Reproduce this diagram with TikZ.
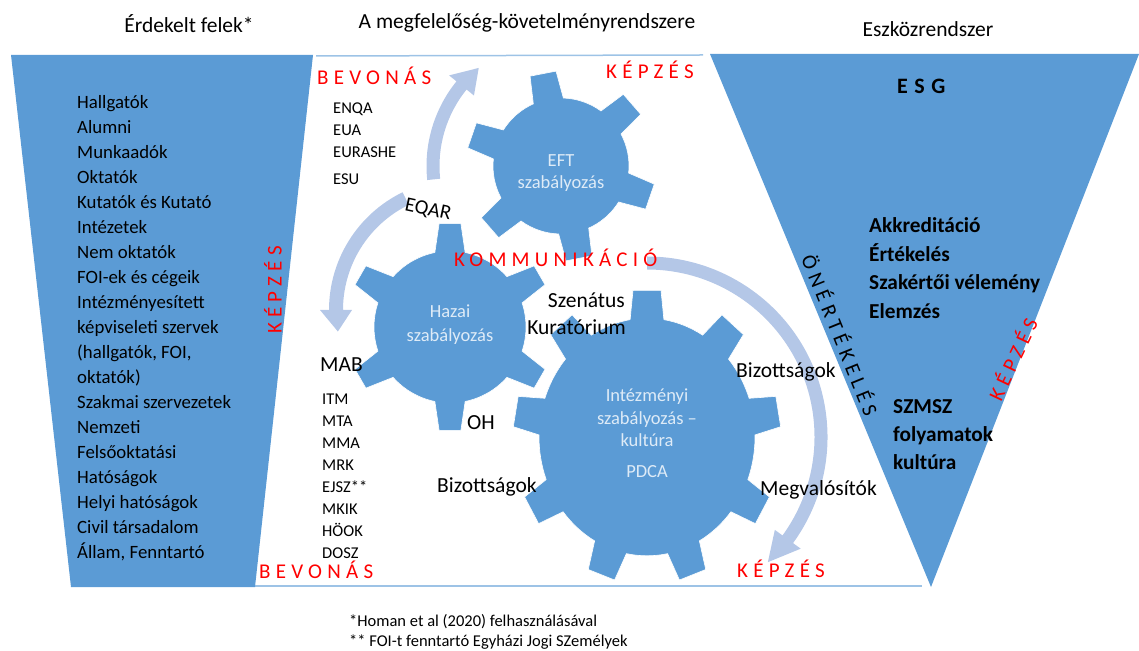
\documentclass[tikz,border=0pt]{standalone}
\usepackage{fontspec}
\setmainfont{Carlito}
\definecolor{panelblue}{HTML}{5B9BD5}
\definecolor{flowblue}{HTML}{B4C7E7}
\definecolor{gearlight}{HTML}{DEEBF7}
\definecolor{framelight}{HTML}{9DC3E6}

% gear: centre, teeth, body radius, tip radius, first tooth angle, half base angle, half tip angle, yscale
\newcommand{\gearwheel}[8]{%
  \begin{scope}[shift={#1}, yscale=#8]
    \filldraw[gear] ({#5-#6}:#3)
      \foreach \k in {1,...,#2} {
        -- ({#5+(\k-1)*360/#2-#7}:#4) -- ({#5+(\k-1)*360/#2+#7}:#4)
        -- ({#5+(\k-1)*360/#2+#6}:#3)
        arc[start angle={#5+(\k-1)*360/#2+#6}, end angle={#5+\k*360/#2-#6}, radius=#3]
      } -- cycle;
  \end{scope}}

% curved block arrow: centre, radius, start angle, head angle, tip angle, width, head half width
\newcommand{\arcarrow}[7]{%
  \pgfmathsetmacro\rin{#2-#6/2}\pgfmathsetmacro\rout{#2+#6/2}%
  \pgfmathsetmacro\hin{#2-#7}\pgfmathsetmacro\hout{#2+#7}%
  \begin{scope}[shift={#1}]
    \fill[flow] (#3:\rin) arc[start angle=#3, end angle=#4, radius=\rin]
      -- (#4:\hin) -- (#5:#2) -- (#4:\hout) -- (#4:\rout)
      arc[start angle=#4, end angle=#3, radius=\rout] -- cycle;
  \end{scope}}

\begin{document}
\begin{tikzpicture}[x=1pt, y=1pt,
  panel/.style={fill=panelblue},
  gear/.style={fill=panelblue, draw=white, line width=0.6pt},
  flow/.style={fill=flowblue},
  frame/.style={draw=framelight, line width=1.5pt},
  ttl/.style={anchor=base, font=\fontsize{21.5}{26}\selectfont},
  lst/.style={anchor=base west, inner sep=0pt, font=\fontsize{18.8}{25}\selectfont},
  org/.style={anchor=base west, inner sep=0pt, font=\fontsize{16.5}{20}\selectfont},
  lbl/.style={anchor=base west, inner sep=0pt, font=\fontsize{21.5}{26}\selectfont},
  tool/.style={anchor=base west, inner sep=0pt, font=\bfseries\fontsize{21.3}{26}\selectfont},
  gtxt/.style={align=center, text=gearlight, font=\fontsize{18.5}{22.5}\selectfont},
  spaced/.style={inner sep=0pt, font=\fontsize{21}{24}\selectfont\addfontfeature{LetterSpace=25}},
  hot/.style={spaced, text=red},
  note/.style={anchor=base west, inner sep=0pt, font=\fontsize{16.5}{20}\selectfont}]
  \useasboundingbox (0,0) rectangle (1139,650);
  % middle field -- top and bottom edge
  \draw[frame] (316,594) -- (703,595);
  \draw[frame] (254,64) -- (922,64);
  % side panels
  \fill[panel] (11,595) -- (313,595) -- (255,63) -- (71,63) -- cycle;
  \fill[panel] (710,596) -- (1139,596) -- (931,63) -- cycle;
  % curved arrows
  \arcarrow{(561,484)}{128}{186}{141}{130}{13}{16}
  \arcarrow{(460,340)}{124}{116}{180}{190}{14}{16}
  \arcarrow{(647,213)}{174}{90}{-36}{-46}{13}{16}
  % gears
  \gearwheel{(647,213)}{9}{108}{134}{90}{9}{6}{1.1}
  \gearwheel{(450,323)}{6}{76}{104}{30}{11.5}{6}{1}
  \gearwheel{(561,484)}{6}{68}{95}{41}{13}{8}{1}
  % column titles
  \node[ttl] (felek) at (189,617) {Érdekelt felek*};
  \node[ttl] (rendszer) at (527,621) {A megfelelőség-követelményrendszere};
  \node[ttl] (eszkoz) at (928,613) {Eszközrendszer};
  % left panel -- stakeholders
  \foreach \t [count=\i from 0] in {Hallgatók, Alumni, Munkaadók, Oktatók,
      Kutatók és Kutató, Intézetek, Nem oktatók, FOI-ek és cégeik, Intézményesített,
      képviseleti szervek, {(hallgatók, FOI,}, oktatók), Szakmai szervezetek, Nemzeti,
      Felsőoktatási, Hatóságok, Helyi hatóságok, Civil társadalom, {Állam, Fenntartó}}
    \node[lst] (fel\i) at (77,541-25*\i) {\t};
  \node[hot, rotate=90] (kepz1) at (273,360) {KÉPZÉS};
  % middle field -- organisations
  \node[hot, anchor=base west] (bev1) at (317,565) {BEVONÁS};
  \node[hot, anchor=base west] (kepz2) at (606,571) {KÉPZÉS};
  \node[hot, anchor=base west] (komm) at (454,383) {KOMMUNIKÁCIÓ};
  \node[hot, anchor=base west] (bev2) at (259,71) {BEVONÁS};
  \node[hot, anchor=base west] (kepz3) at (737,73) {KÉPZÉS};
  \foreach \t/\y [count=\i] in {ENQA/536, EUA/514, EURASHE/492, ESU/465}
    \node[org] (eu\i) at (333,\y) {\t};
  \node[inner sep=0pt, rotate=-12, font=\fontsize{20.5}{24}\selectfont] (eqar) at (428,440) {EQAR};
  \node[lbl] (mab) at (320,278) {MAB};
  \foreach \t [count=\i from 0] in {ITM, MTA, MMA, MRK, EJSZ**, MKIK, HÖOK, DOSZ}
    \node[org] (hu\i) at (322,245-22*\i) {\t};
  \node[lbl] (oh) at (467,220) {OH};
  \node[lbl, anchor=base east] (szen) at (625,342) {Szenátus};
  \node[lbl, anchor=base east] (kur) at (626,315) {Kuratórium};
  \node[lbl] (biz1) at (736,272) {Bizottságok};
  \node[lbl] (biz2) at (437,157) {Bizottságok};
  \node[lbl] (megv) at (760,154) {Megvalósítók};
  % gear labels
  \node[gtxt] (eft) at (561,477) {EFT\\szabályozás};
  \node[gtxt, font=\fontsize{18.5}{24}\selectfont] (hazai) at (450,325) {Hazai\\szabályozás};
  \node[gtxt] (intez) at (647,232) {Intézményi\\szabályozás –\\kultúra};
  \node[gtxt] (pdca) at (647,178) {PDCA};
  % right panel -- tools
  \node[inner sep=0pt, anchor=base west, font=\bfseries\fontsize{22}{26}\selectfont\addfontfeature{LetterSpace=30}] (esg) at (897,556) {ESG};
  \foreach \t [count=\i from 0] in {Akkreditáció, Értékelés, Szakértői vélemény, Elemzés}
    \node[tool] (esz\i) at (869,417-28.5*\i) {\t};
  \foreach \t [count=\i from 0] in {SZMSZ, folyamatok, kultúra}
    \node[tool] (int\i) at (893,236-28*\i) {\t};
  \node[spaced, rotate=-68] (oner) at (841,315) {ÖNÉRTÉKELÉS};
  \node[hot, rotate=64.6] (kepz4) at (1012,291) {KÉPZÉS};
  % footnotes
  \node[note] (jegy1) at (349,24) {*Homan et al (2020) felhasználásával};
  \node[note] (jegy2) at (349,4) {** FOI-t fenntartó Egyházi Jogi SZemélyek};
\end{tikzpicture}
\end{document}
